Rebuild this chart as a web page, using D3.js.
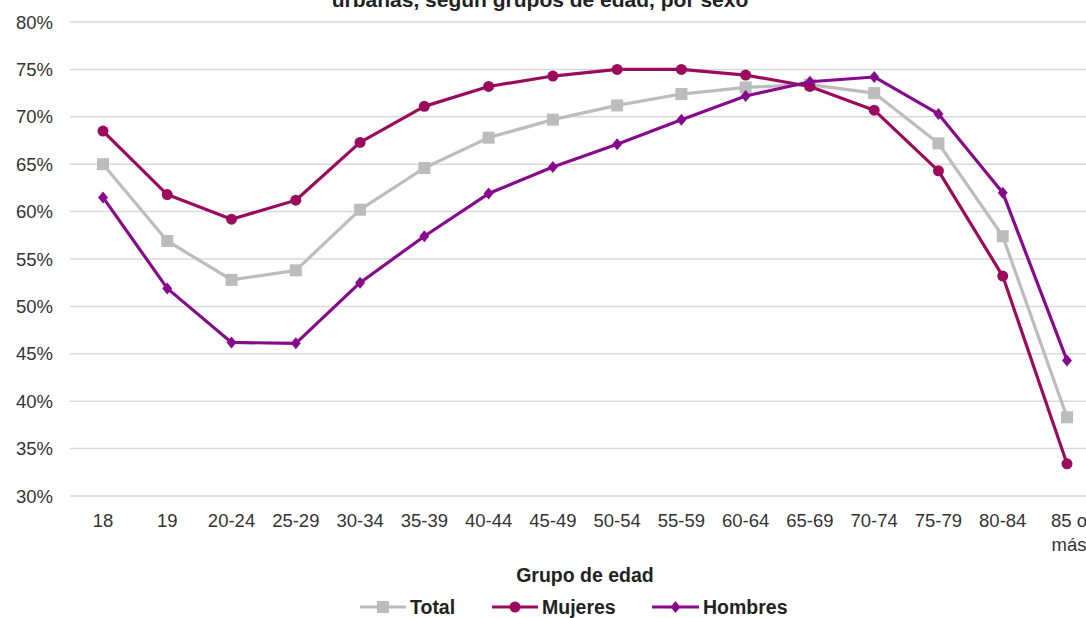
<!DOCTYPE html>
<html><head><meta charset="utf-8">
<script src="https://cdn.jsdelivr.net/npm/d3@7"></script>
<style>body{margin:0;background:#fff;overflow:hidden}svg{display:block;font-family:"Liberation Sans",Arial,sans-serif}</style>
</head><body><svg id="c" width="1086" height="618"></svg>
<script>
const categories = ["18","19","20-24","25-29","30-34","35-39","40-44","45-49","50-54","55-59","60-64","65-69","70-74","75-79","80-84","85 o más"];
const total   = [65.0,56.9,52.8,53.8,60.2,64.6,67.8,69.7,71.2,72.4,73.1,73.4,72.5,67.2,57.4,38.3];
const mujeres = [68.5,61.8,59.2,61.2,67.3,71.1,73.2,74.3,75.0,75.0,74.4,73.2,70.7,64.3,53.2,33.4];
const hombres = [61.5,51.9,46.2,46.1,52.5,57.4,61.9,64.7,67.1,69.7,72.2,73.7,74.2,70.3,62.0,44.3];
const yTicks = [30,35,40,45,50,55,60,65,70,75,80];
const seriesNames = ["Total","Mujeres","Hombres"];

const svg = d3.select("#c");
const x = d3.scalePoint().domain(categories).range([103, 1067]);
const y = d3.scaleLinear().domain([30,80]).range([496, 22]);

svg.append("text").attr("x",540).attr("y",7).attr("text-anchor","middle")
  .attr("font-size",21).attr("font-weight","bold").attr("fill","#222")
  .text("urbanas, según grupos de edad, por sexo");

// gridlines
svg.append("g").selectAll("line").data(yTicks).join("line")
  .attr("x1",70).attr("x2",1086).attr("y1",d=>y(d)).attr("y2",d=>y(d))
  .attr("stroke","#d9d9d9").attr("stroke-width",1.5);

// y labels
svg.append("g").selectAll("text").data(yTicks).join("text")
  .attr("x",53).attr("y",d=>y(d)+6.5).attr("text-anchor","end")
  .attr("font-size",18.5).attr("fill","#333").text(d=>d+"%");

// x labels
const xl = svg.append("g").selectAll("text").data(categories).join("text")
  .attr("x",d=>x(d)).attr("y",527).attr("text-anchor","middle")
  .attr("font-size",18.5).attr("fill","#333");
xl.each(function(d){
  const t = d3.select(this);
  if (d === "85 o más") {
    t.append("tspan").attr("x",x(d)+2).attr("dy",0).text("85 o");
    t.append("tspan").attr("x",x(d)+2).attr("dy",24).text("más");
  } else t.text(d);
});

svg.append("text").attr("x",585).attr("y",582).attr("text-anchor","middle")
  .attr("font-size",19.5).attr("font-weight","bold").attr("fill","#222").text("Grupo de edad");

const colors = {Total:"#bcbcbc", Mujeres:"#9b0b5c", Hombres:"#870a8c"};
const data = {Total: total, Mujeres: mujeres, Hombres: hombres};
const line = d3.line().x((d,i)=>x(categories[i])).y(d=>y(d));

function marker(g, name, cx, cy) {
  const c = colors[name];
  if (name === "Total") g.append("rect").attr("x",cx-6).attr("y",cy-6).attr("width",12).attr("height",12).attr("fill",c);
  else if (name === "Mujeres") g.append("circle").attr("cx",cx).attr("cy",cy).attr("r",5.5).attr("fill",c);
  else g.append("path").attr("d",`M${cx},${cy-6}L${cx+5},${cy}L${cx},${cy+6}L${cx-5},${cy}Z`).attr("fill",c);
}

seriesNames.forEach(name => {
  const g = svg.append("g");
  g.append("path").datum(data[name]).attr("d",line).attr("fill","none")
    .attr("stroke",colors[name]).attr("stroke-width",3.2).attr("stroke-linejoin","round");
  data[name].forEach((v,i)=>marker(g,name,x(categories[i]),y(v)));
});

// legend
const legendPos = [{n:"Total",x1:360,x2:406},{n:"Mujeres",x1:492,x2:538},{n:"Hombres",x1:652,x2:699}];
legendPos.forEach(l=>{
  const g = svg.append("g");
  g.append("line").attr("x1",l.x1).attr("x2",l.x2).attr("y1",607).attr("y2",607)
    .attr("stroke",colors[l.n]).attr("stroke-width",3.2);
  marker(g,l.n,(l.x1+l.x2)/2,607);
  g.append("text").attr("x",l.x2+4).attr("y",614).attr("font-size",19.5).attr("font-weight","bold")
    .attr("fill","#222").text(l.n);
});
</script></body></html>
